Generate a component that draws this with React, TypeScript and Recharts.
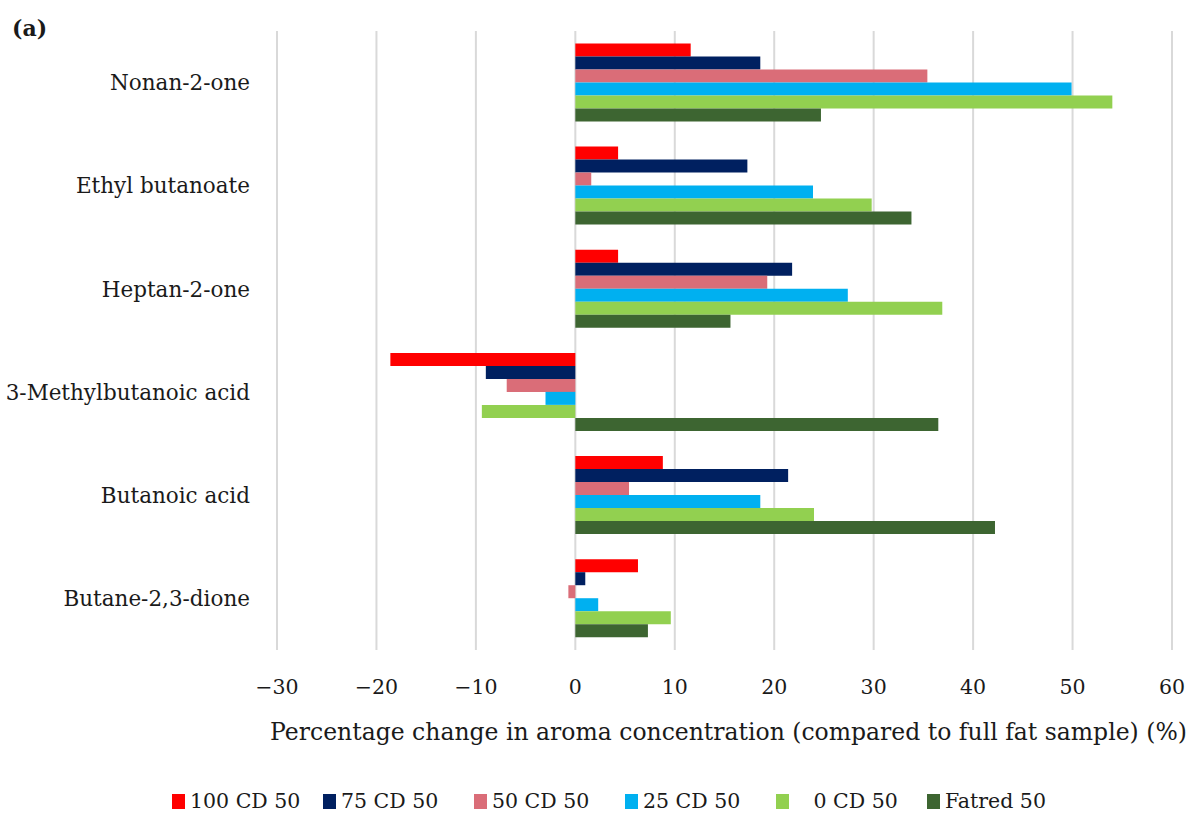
import { Bar, BarChart, CartesianGrid, Label, Legend, XAxis, YAxis } from "recharts";

// Compounds, top to bottom as drawn.
const COMPOUNDS = [
  "Nonan-2-one",
  "Ethyl butanoate",
  "Heptan-2-one",
  "3-Methylbutanoic acid",
  "Butanoic acid",
  "Butane-2,3-dione",
];

const CD100 = [11.6, 4.3, 4.3, -18.6, 8.8, 6.3];
const CD75 = [18.6, 17.3, 21.8, -9.0, 21.4, 1.0];
const CD50 = [35.4, 1.6, 19.3, -6.9, 5.4, -0.7];
const CD25 = [49.9, 23.9, 27.4, -3.0, 18.6, 2.3];
const CD0 = [54.0, 29.8, 36.9, -9.4, 24.0, 9.6];
const FATRED = [24.7, 33.8, 15.6, 36.5, 42.2, 7.3];

const X_TICKS = [-30, -20, -10, 0, 10, 20, 30, 40, 50, 60];

const SERIES = [
  { key: "cd100", name: "100 CD 50", color: "#FF0000", values: CD100 },
  { key: "cd75", name: "75 CD 50", color: "#002060", values: CD75 },
  { key: "cd50", name: "50 CD 50", color: "#DA6D78", values: CD50 },
  { key: "cd25", name: "25 CD 50", color: "#00B0F0", values: CD25 },
  { key: "cd0", name: "   0 CD 50", color: "#92D050", values: CD0 },
  { key: "fatred", name: "Fatred 50", color: "#3D6531", values: FATRED },
];

const DATA = COMPOUNDS.map((name, i) => {
  const row: Record<string, string | number> = { name };
  SERIES.forEach((s) => (row[s.key] = s.values[i]));
  return row;
});

const FONT = "'DejaVu Serif', serif";
const TEXT = "#1a1a1a";

const minus = (v: number) => String(v).replace("-", "\u2212");

// Excel-style legend: equal-width slots, small square swatch.
function LegendRow() {
  return (
    <div style={{ display: "flex", paddingLeft: 172, fontFamily: FONT, fontSize: 20.5, color: TEXT }}>
      {SERIES.map((s) => (
        <div key={s.key} style={{ display: "flex", alignItems: "center", width: 151, whiteSpace: "pre" }}>
          <span style={{ width: 13, height: 15, background: s.color, display: "inline-block", marginRight: 5 }} />
          <span>{s.name}</span>
        </div>
      ))}
    </div>
  );
}

export default function App() {
  return (
    <div style={{ position: "absolute", left: 0, top: 0, width: 1196, height: 814, background: "#fff" }}>
      <div style={{ position: "absolute", left: 12, top: 15, fontFamily: FONT, fontWeight: 700, fontSize: 22, color: TEXT }}>
        (a)
      </div>
      <BarChart
        width={1196}
        height={814}
        data={DATA}
        layout="vertical"
        margin={{ top: 31, right: 24, bottom: 64, left: 0 }}
        barCategoryGap="12%"
        barGap={0}
      >
        <CartesianGrid horizontal={false} stroke="#d9d9d9" strokeWidth={2} />
        <XAxis
          type="number"
          domain={[-30, 60]}
          ticks={X_TICKS}
          tickFormatter={minus}
          axisLine={false}
          tickLine={false}
          tickSize={0}
          tickMargin={29}
          height={100}
          tick={{ fill: TEXT, fontSize: 20.5, fontFamily: FONT }}
        >
          <Label
            value="Percentage change in aroma concentration (compared to full fat sample) (%)"
            position="insideBottom"
            offset={10}
            dx={4}
            style={{ fill: TEXT, fontSize: 23.5, fontFamily: FONT }}
          />
        </XAxis>
        <YAxis
          type="category"
          dataKey="name"
          width={277}
          axisLine={false}
          tickLine={false}
          tickSize={0}
          tickMargin={27}
          tick={{ fill: TEXT, fontSize: 21.5, fontFamily: FONT }}
        />
        <Legend
          verticalAlign="middle"
          layout="horizontal"
          wrapperStyle={{ position: "absolute", top: 789, left: 0, width: 1196 }}
          content={() => <LegendRow />}
        />
        {SERIES.map((s) => (
          <Bar key={s.key} dataKey={s.key} name={s.name} fill={s.color} isAnimationActive={false} />
        ))}
      </BarChart>
    </div>
  );
}
